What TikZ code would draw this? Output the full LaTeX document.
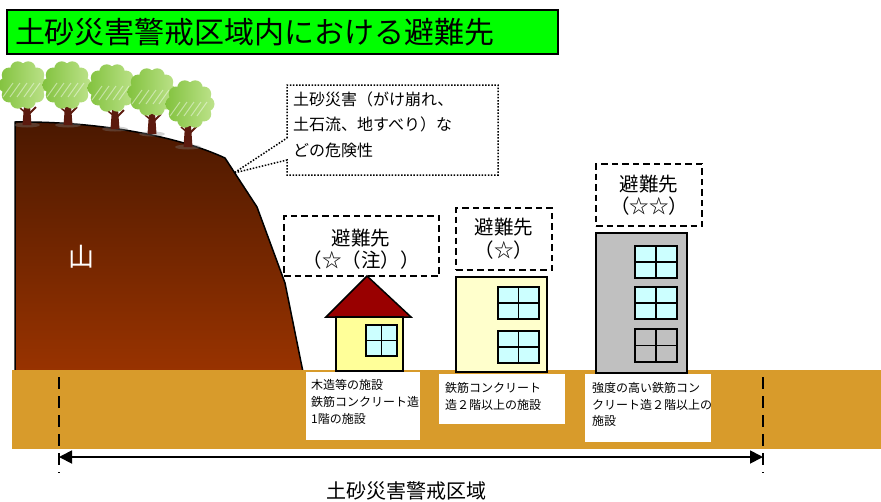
\documentclass[tikz,border=0pt]{standalone}
\usepackage{fontspec}
\setmainfont{Noto Sans CJK JP}
\usetikzlibrary{arrows.meta}

\definecolor{titlegreen}{HTML}{00FF00}
\definecolor{soil}{HTML}{D89B2B}
\definecolor{mtop}{HTML}{4A1800}
\definecolor{mbot}{HTML}{993300}
\definecolor{roofred}{HTML}{990000}
\definecolor{houseyel}{HTML}{FFFF99}
\definecolor{bldyel}{HTML}{FFFFCC}
\definecolor{bldgray}{HTML}{C0C0C0}
\definecolor{glass}{HTML}{CCFFFF}
\definecolor{leafdark}{HTML}{82C23E}
\definecolor{leaflight}{HTML}{BEE38C}
\definecolor{trunkbrown}{HTML}{5C1A0E}

% window with a cross bar: x1 y1 x2 y2 fill
\newcommand\winbox[5]{%
  \draw[fill=#5, draw=black, line width=1.5pt] (#1,#2) rectangle (#3,#4);
  \draw[line width=1.5pt] ({(#1+#3)/2},#2) -- ({(#1+#3)/2},#4)
                          (#1,{(#2+#4)/2}) -- (#3,{(#2+#4)/2});}

\begin{document}
\begin{tikzpicture}[x=1pt, y=-1pt,
  titlebox/.style={draw=black, line width=2pt, fill=titlegreen, anchor=north west,
    minimum width=551pt, minimum height=44pt, inner xsep=8pt, text width=535pt,
    align=left, font=\fontsize{30}{32}\selectfont},
  destbox/.style={draw=black, line width=1.7pt, dash pattern=on 6.5pt off 4pt},
  desttext/.style={align=center, inner sep=0pt, font=\fontsize{19.5}{22.5}\selectfont},
  labeltext/.style={align=left, anchor=north west, inner sep=0pt,
    font=\fontsize{12}{16.8}\selectfont},
  outline/.style={draw=black, line width=1.5pt},
  calloutline/.style={draw=black, line width=1.5pt, dash pattern=on 1.5pt off 1.6pt},
  zonedash/.style={draw=black, line width=1.5pt, dash pattern=on 12pt off 7pt},
  zonearrow/.style={line width=1.8pt,
    {Triangle[length=13pt,width=13pt]}-{Triangle[length=13pt,width=13pt]}}
]
\useasboundingbox (0,0) rectangle (881,501);

% title banner
\node[titlebox] (title) at (6,9) {土砂災害警戒区域内における避難先};

% mountain
\shade[top color=mtop, bottom color=mbot, outline]
  (15,372) -- (15,122) .. controls (100,121) and (180,137) .. (225,158)
  -- (257,207) -- (285,283) -- (303,372) -- cycle;
\node[white, font=\fontsize{26}{26}\selectfont, inner sep=0pt] (yama) at (81,257) {山};

% trees on the ridge: canopy centre x, y, trunk x, trunk base y
\foreach \cx/\cy/\tx/\tb in {23/85/27/125, 67/85/68/125, 112/88/115/129,
                             152/92/152/134, 190/104/188/147}{
  \fill[gray, opacity=0.35] (\tx,\tb) ellipse[x radius=13, y radius=2.5];
  \fill[trunkbrown] (\tx-2.5,\cy+14) -- (\tx-4.5,\tb) -- (\tx+4.5,\tb) -- (\tx+2.5,\cy+14) -- cycle;
  \draw[trunkbrown, line width=2pt] (\tx+1,\cy+30) -- (\tx+9,\cy+22);
  \draw[trunkbrown, line width=1.5pt] (\tx-1,\cy+28) -- (\tx-7,\cy+23);
  \shade[left color=leafdark, right color=leaflight]
    (\cx,\cy) ellipse[x radius=20, y radius=22]
    \foreach \a in {0,36,...,324} { (\cx,\cy) ++(\a:17) circle[radius=7.5] };
  \foreach \d in {-12,-5,2,9,15}{
    \draw[white, opacity=0.45, line width=1pt] (\cx+\d-8,\cy+12) -- (\cx+\d+2,\cy-2);
  }
}

% ground
\fill[soil] (12,370) rectangle (881,449);

% wooden house
\draw[outline, fill=roofred] (326,317) -- (367,276) -- (411,317) -- cycle;
\draw[outline, fill=houseyel] (336,317) rectangle (403,371);
\winbox{366}{325}{397}{356}{glass}

% two-storey concrete building
\draw[outline, fill=bldyel] (456,277) rectangle (547,372);
\winbox{498}{287}{539}{319}{glass}
\winbox{498}{331}{539}{363}{glass}

% strong multi-storey building
\draw[outline, fill=bldgray] (596,233) rectangle (687,373);
\winbox{635}{246}{677}{278}{glass}
\winbox{635}{287}{677}{319}{glass}
\winbox{635}{329}{677}{362}{bldgray}

% evacuation destination tags
\node[destbox, minimum width=155pt, minimum height=60pt, inner sep=0pt] (dest1) at (361.5,246) {};
\node[desttext] (dest1txt) at (361,249) {避難先\\（☆（注））};
\node[destbox, minimum width=96pt, minimum height=62pt, inner sep=0pt] (dest2) at (504,239) {};
\node[desttext] (dest2txt) at (504,238.5) {避難先\\（☆）};
\node[destbox, minimum width=106pt, minimum height=62pt, inner sep=0pt] (dest3) at (649,195) {};
\node[desttext] (dest3txt) at (649,195) {避難先\\（☆☆）};

% hazard callout
\coordinate (slope) at (234,173);
\draw[calloutline] (287,138) -- (287,85) -- (498,85) -- (498,175) -- (287,175)
  -- (287,160) -- (slope) -- cycle;
\node[labeltext, font=\fontsize{16}{25.5}\selectfont] (hazard) at (293,91.5)
  {土砂災害（がけ崩れ、\\土石流、地すべり）な\\どの危険性};

% facility labels
\fill[white] (306,372) rectangle (420,440);
\node[labeltext] (lbl1) at (311,379.5) {木造等の施設\\鉄筋コンクリート造\\1階の施設};
\fill[white] (439,374) rectangle (565,424);
\node[labeltext, font=\fontsize{12}{16.5}\selectfont] (lbl2) at (445,382.5) {鉄筋コンクリート\\造２階以上の施設};
\fill[white] (585,374) rectangle (711,442);
\node[labeltext, font=\fontsize{12}{16.5}\selectfont] (lbl3) at (592,382.5) {強度の高い鉄筋コン\\クリート造２階以上の\\施設};

% extent of the warning zone
\coordinate (zoneLtop) at (59,377);
\coordinate (zoneLbot) at (59,473);
\coordinate (zoneRtop) at (763,377);
\coordinate (zoneRbot) at (763,473);
\coordinate (zoneL) at (59,457);
\coordinate (zoneR) at (763,457);
\draw[zonedash] (zoneLtop) -- (zoneLbot);
\draw[zonedash] (zoneRtop) -- (zoneRbot);
\draw[zonearrow] (zoneL) -- (zoneR);
\node[font=\fontsize{20}{20}\selectfont, inner sep=0pt] (zone) at (406,491) {土砂災害警戒区域};
\end{tikzpicture}
\end{document}
